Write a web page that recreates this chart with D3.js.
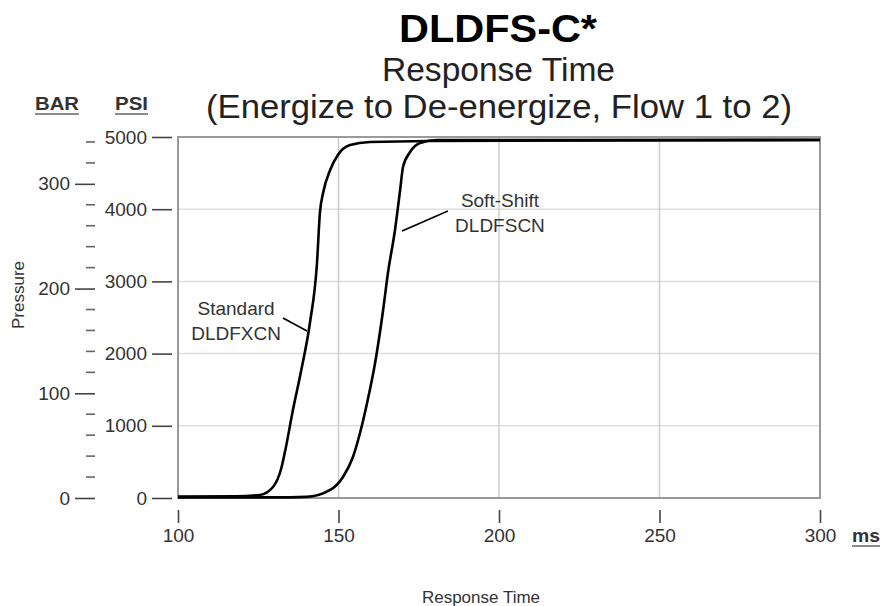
<!DOCTYPE html>
<html>
<head>
<meta charset="utf-8">
<script src="https://cdn.jsdelivr.net/npm/d3@7"></script>
<style>
  body { margin: 0; background: #fff; }
  text { font-family: "Liberation Sans", Arial, sans-serif; fill: #222; }
</style>
</head>
<body>
<div id="chart"></div>
<script>
// data (ms, psi)
var standardTime = [100, 118, 125.5, 129.6, 132.2, 133.6, 135.8, 138.6, 141.1, 143.3, 144.2, 145.2, 147.4, 149.8, 153.6, 159.8, 178.5, 300];
var standardPsi  = [20, 22, 42, 152, 415, 700, 1219, 1814, 2424, 3255, 3947, 4224, 4543, 4751, 4889, 4931, 4945, 4958];

var softTime = [100, 130, 140, 147.4, 151.4, 154.5, 156.7, 158.9, 161.4, 163.9, 165.4, 167.6, 169.2, 170.1, 172.3, 175.4, 180.7, 300];
var softPsi  = [8, 8, 15, 111, 291, 568, 900, 1316, 1870, 2604, 3116, 3712, 4266, 4584, 4792, 4917, 4958, 4960];

var xTicks = [100, 150, 200, 250, 300];
var psiTicks = [0, 1000, 2000, 3000, 4000, 5000];
var barTicks = [0, 100, 200, 300];
var PSI_PER_BAR = 14.5038;

// labels (positions in data units)
var standardLabel = ["Standard", "DLDFXCN"];
var softLabel = ["Soft-Shift", "DLDFSCN"];

var svgWidth = 880;
var svgHeight = 606;

var plot = { left: 178, right: 820, top: 137, bottom: 498 };

var svg = d3.select("#chart")
  .append("svg")
  .attr("width", svgWidth)
  .attr("height", svgHeight);

var x = d3.scaleLinear()
  .domain([100, 300])
  .range([plot.left, plot.right]);

var y = d3.scaleLinear()
  .domain([0, 5000])
  .range([plot.bottom, plot.top]);

var yBar = d3.scaleLinear()
  .domain([0, 5000 / PSI_PER_BAR])
  .range([plot.bottom, plot.top]);

// titles
svg.append("text")
  .attr("x", 399).attr("y", 42)
  .attr("font-size", 38).attr("font-weight", "bold")
  .attr("textLength", 198).attr("lengthAdjust", "spacingAndGlyphs")
  .style("fill", "#000")
  .text("DLDFS-C*");

svg.append("text")
  .attr("x", 382).attr("y", 81)
  .attr("font-size", 33)
  .attr("textLength", 233).attr("lengthAdjust", "spacingAndGlyphs")
  .text("Response Time");

svg.append("text")
  .attr("x", 206).attr("y", 118)
  .attr("font-size", 33)
  .attr("textLength", 586).attr("lengthAdjust", "spacingAndGlyphs")
  .text("(Energize to De-energize, Flow 1 to 2)");

// grid
var grid = svg.append("g");
grid.selectAll(".hg")
  .data(psiTicks.slice(1, -1))
  .enter().append("line")
  .attr("x1", plot.left).attr("x2", plot.right)
  .attr("y1", d => y(d)).attr("y2", d => y(d))
  .attr("stroke", "#ddd").attr("stroke-width", 1.5);

grid.selectAll(".vg")
  .data(xTicks.slice(1, -1))
  .enter().append("line")
  .attr("x1", d => x(d)).attr("x2", d => x(d))
  .attr("y1", plot.top).attr("y2", plot.bottom)
  .attr("stroke", "#ccc").attr("stroke-width", 1.5);

// plot frame
svg.append("rect")
  .attr("x", plot.left).attr("y", plot.top)
  .attr("width", plot.right - plot.left)
  .attr("height", plot.bottom - plot.top)
  .attr("fill", "none")
  .attr("stroke", "#999")
  .attr("stroke-width", 2);

// curves
var line = d3.line()
  .x(d => x(d[0]))
  .y(d => y(d[1]))
  .curve(d3.curveMonotoneX);

var series = [
  d3.zip(standardTime, standardPsi),
  d3.zip(softTime, softPsi)
];

svg.selectAll(".curve")
  .data(series)
  .enter().append("path")
  .attr("d", line)
  .attr("fill", "none")
  .attr("stroke", "#000")
  .attr("stroke-width", 2.6);

// axes
function styleAxis(g, size) {
  g.select(".domain").remove();
  g.selectAll(".tick line").attr("stroke", "#444").attr("stroke-width", 1.6);
  g.selectAll(".tick text")
    .attr("font-size", size)
    .attr("font-family", "Liberation Sans, Arial, sans-serif")
    .style("fill", "#333");
}

svg.append("g")
  .attr("transform", "translate(0, 510)")
  .call(d3.axisBottom(x).tickValues(xTicks).tickSize(13).tickPadding(6).tickFormat(d3.format("d")))
  .call(g => styleAxis(g, 19));

svg.append("g")
  .attr("transform", "translate(172, 0)")
  .call(d3.axisLeft(y).tickValues(psiTicks).tickSize(20).tickPadding(5).tickFormat(d3.format("d")))
  .call(g => styleAxis(g, 19));

svg.append("g")
  .attr("transform", "translate(95, 0)")
  .call(d3.axisLeft(yBar).tickValues(barTicks).tickSize(20).tickPadding(5).tickFormat(d3.format("d")))
  .call(g => styleAxis(g, 19));

// bar minor ticks every 20 bar
var barMinor = d3.range(20, 345, 20).filter(d => d % 100 !== 0);
svg.selectAll(".minor")
  .data(barMinor)
  .enter().append("line")
  .attr("x1", 86).attr("x2", 95)
  .attr("y1", d => yBar(d)).attr("y2", d => yBar(d))
  .attr("stroke", "#666").attr("stroke-width", 1.6);

// unit headers
function unitLabel(tx, ty, str, w) {
  svg.append("text")
    .attr("x", tx).attr("y", ty)
    .attr("font-size", 18).attr("font-weight", "bold")
    .attr("textLength", w).attr("lengthAdjust", "spacingAndGlyphs")
    .style("fill", "#333")
    .text(str);
  svg.append("line")
    .attr("x1", tx).attr("x2", tx + w)
    .attr("y1", ty + 4).attr("y2", ty + 4)
    .attr("stroke", "#666").attr("stroke-width", 1.5);
}
unitLabel(35, 110, "BAR", 44);
unitLabel(115, 110, "PSI", 33);
unitLabel(852, 542, "ms", 28);

// axis titles
svg.append("text")
  .attr("transform", "rotate(-90)")
  .attr("x", -295).attr("y", 24)
  .attr("text-anchor", "middle")
  .attr("font-size", 17)
  .style("fill", "#333")
  .text("Pressure");

svg.append("text")
  .attr("x", 481).attr("y", 603)
  .attr("text-anchor", "middle")
  .attr("font-size", 17)
  .style("fill", "#333")
  .text("Response Time");

// annotations
function annotate(lines, tx, ty, leader) {
  svg.append("text")
    .attr("text-anchor", "middle")
    .attr("font-size", 19)
    .style("fill", "#333")
    .selectAll("tspan")
    .data(lines)
    .enter().append("tspan")
    .attr("x", x(tx))
    .attr("y", (d, i) => y(ty) + i * 25)
    .text(d => d);
  svg.append("line")
    .attr("x1", x(leader[0])).attr("y1", y(leader[1]))
    .attr("x2", x(leader[2])).attr("y2", y(leader[3]))
    .attr("stroke", "#000").attr("stroke-width", 1.8);
}
annotate(standardLabel, 118.1, 2535, [132.7, 2493, 140.2, 2313]);
annotate(softLabel, 200.3, 4030, [169.8, 3698, 184.1, 3975]);
</script>
</body>
</html>
